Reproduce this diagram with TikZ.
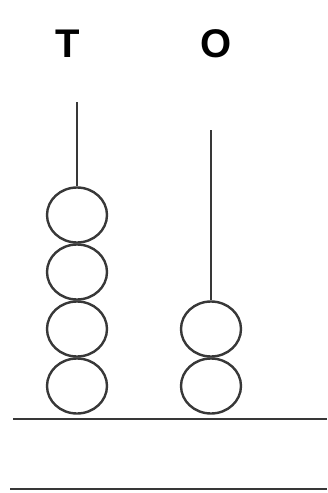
\documentclass[tikz,border=0pt]{standalone}
\usepackage{fontspec}
\setmainfont{Liberation Sans}
\usetikzlibrary{shapes.geometric}
\begin{document}
\begin{tikzpicture}[x=1pt,y=-1pt,
  ink/.style={draw=black!78, line width=2.4pt},
  bead/.style={ink, ellipse, inner sep=0pt, minimum width=60pt, minimum height=55pt},
  lbl/.style={font=\fontsize{40}{40}\selectfont\bfseries, text=black, inner sep=0pt, anchor=base}]
\useasboundingbox (0,0) rectangle (327,493);
\node[lbl] (T) at (68,57) {T};
\node[lbl] (O) at (216,57) {O};
% T column
\coordinate (ttop) at (77,102);
\node[bead] (t1) at (77,215) {};
\node[bead] (t2) at (77,272) {};
\node[bead] (t3) at (77,329) {};
\node[bead] (t4) at (77,386) {};
\draw[ink] (ttop) -- (t1.north);
% O column
\coordinate (otop) at (211,130);
\node[bead] (o1) at (211,329) {};
\node[bead] (o2) at (211,386) {};
\draw[ink] (otop) -- (o1.north);
% base lines
\coordinate (b1l) at (13,419);
\coordinate (b1r) at (327,419);
\coordinate (b2l) at (10,489);
\coordinate (b2r) at (327,489);
\draw[ink] (b1l) -- (b1r);
\draw[ink] (b2l) -- (b2r);
\end{tikzpicture}
\end{document}
